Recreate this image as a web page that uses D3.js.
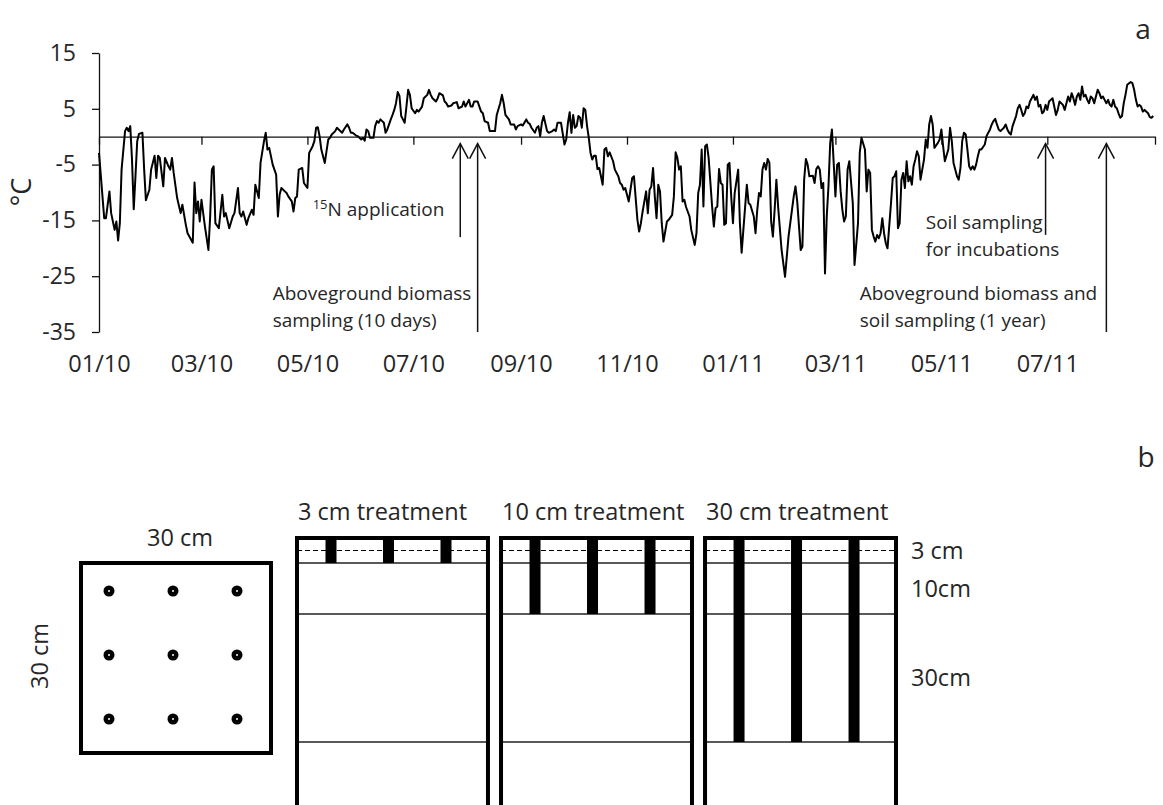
<!DOCTYPE html>
<html>
<head>
<meta charset="utf-8">
<script src="https://cdn.jsdelivr.net/npm/d3@7"></script>
<style>
body { margin: 0; background: #fff; }
svg { display: block; font-family: "Open Sans", sans-serif; }
</style>
</head>
<body>
<div id="chart"></div>
<script>
const width = 1163, height = 805;

// panel a: daily temperature, [days since 01/01/2010, °C]
const startDate = new Date(2010, 0, 1), endDate = new Date(2011, 8, 1);
const yTicks = [15, 5, -5, -15, -25, -35];
const readings = [
  [0,-2.9],[3,-14.6],[4,-14.6],[6,-9.8],[7,-13.7],[9,-16.7],[10,-15.2],[11,-18.6],[12,-15.5],[13,-5.9],
  [15,1.0],[16,1.6],[17,1.0],[18,1.9],[19,-4.1],[20,-13.0],[21,-7.1],[22,-0.8],[23,0.5],[25,0.7],
  [26,-5.9],[27,-11.4],[29,-9.5],[30,-5.9],[32,-3.4],[33,-7.4],[34,-3.4],[35,-3.8],[37,-8.9],[38,-3.8],
  [40,-5.3],[41,-5.9],[42,-3.8],[43,-6.5],[45,-11.0],[47,-13.7],[48,-12.2],[50,-15.8],[51,-17.3],[54,-19.0],
  [55,-8.2],[56,-13.7],[57,-11.6],[58,-15.2],[59,-11.3],[61,-16.1],[63,-20.3],[64,-14.3],[65,-5.9],[66,-5.3],
  [67,-15.5],[69,-16.4],[71,-10.4],[72,-14.3],[73,-13.7],[75,-16.4],[77,-14.3],[78,-13.7],[80,-9.2],[81,-13.7],
  [82,-14.3],[83,-13.4],[85,-15.8],[86,-14.6],[88,-13.1],[89,-14.0],[90,-8.6],[92,-11.0],[93,-4.7],[95,-0.8],
  [96,0.7],[97,-2.3],[98,-2.0],[100,-5.0],[102,-6.8],[103,-14.3],[104,-10.4],[105,-9.2],[107,-9.8],[108,-10.1],
  [109,-10.7],[111,-11.6],[112,-13.4],[113,-11.0],[114,-10.7],[115,-5.9],[117,-5.6],[118,-8.3],[120,-9.2],[121,-2.9],
  [123,-1.7],[124,-0.8],[125,1.6],[126,1.7],[127,0.1],[128,-2.3],[130,-4.7],[131,-2.6],[132,-0.5],[133,-0.2],
  [134,0.4],[136,1.0],[137,1.6],[138,1.3],[140,0.7],[141,1.3],[143,2.2],[144,1.6],[145,0.7],[146,0.7],
  [148,0.2],[149,0.1],[151,-0.5],[152,-0.2],[153,-0.7],[154,1.3],[155,1.0],[156,-0.2],[158,-0.2],[159,1.9],
  [160,2.8],[161,2.5],[162,3.1],[164,2.5],[165,0.7],[166,1.3],[168,3.1],[169,3.9],[170,4.8],[171,6.0],
  [172,8.0],[173,7.3],[174,3.7],[175,3.1],[176,2.5],[177,5.4],[178,8.4],[179,7.5],[180,5.1],[182,4.2],
  [183,4.8],[184,4.5],[186,5.4],[187,6.9],[189,7.5],[190,8.4],[191,7.5],[192,6.9],[194,6.3],[195,6.9],
  [196,7.8],[198,7.4],[199,6.3],[200,6.0],[201,5.4],[203,5.6],[204,6.0],[206,6.2],[207,5.1],[209,5.4],
  [210,6.3],[211,5.4],[213,6.6],[214,5.4],[215,5.4],[216,6.3],[218,6.3],[219,5.4],[220,4.5],[221,4.2],
  [222,2.8],[224,2.5],[225,1.0],[226,1.0],[228,1.0],[229,3.9],[231,6.0],[232,7.5],[233,6.0],[234,3.9],
  [236,3.1],[237,2.2],[239,2.2],[240,1.3],[241,1.9],[243,2.2],[244,2.0],[246,3.1],[247,2.5],[248,2.3],
  [249,1.6],[251,0.7],[252,1.6],[253,1.9],[254,0.1],[255,2.5],[256,3.7],[258,1.0],[259,0.7],[261,1.0],
  [262,1.3],[263,1.0],[264,2.5],[266,2.5],[268,-1.4],[269,-0.5],[270,2.5],[271,4.4],[272,0.7],[273,3.9],
  [274,1.6],[275,1.9],[276,3.7],[277,3.4],[278,1.6],[279,5.1],[280,4.8],[281,1.9],[282,-0.2],[283,-2.9],
  [284,-4.1],[285,-3.4],[286,-3.4],[287,-5.8],[288,-5.6],[289,-7.1],[290,-8.6],[291,-2.3],[292,-2.0],[293,-3.5],
  [294,-2.8],[296,-4.4],[297,-5.9],[299,-7.1],[300,-8.3],[301,-8.6],[302,-9.5],[303,-9.2],[304,-10.4],[305,-11.6],
  [307,-7.4],[308,-7.1],[310,-14.9],[311,-17.0],[312,-15.5],[313,-13.4],[315,-9.8],[316,-13.7],[317,-9.5],[318,-8.9],
  [319,-5.6],[320,-10.7],[321,-14.6],[322,-8.6],[323,-9.8],[324,-15.5],[325,-18.8],[327,-15.2],[328,-14.9],[330,-14.0],
  [331,-10.7],[332,-2.8],[333,-3.8],[334,-5.9],[335,-5.3],[336,-11.6],[337,-11.3],[338,-12.6],[340,-14.3],[341,-16.7],
  [343,-19.4],[344,-17.3],[345,-10.1],[346,-8.6],[347,-2.3],[348,-12.5],[349,-1.7],[350,-1.4],[351,-3.8],[353,-12.5],
  [354,-16.1],[355,-12.8],[356,-12.5],[357,-5.8],[358,-8.3],[359,-8.6],[360,-15.8],[361,-15.5],[362,-5.0],[363,-4.7],
  [364,-10.7],[365,-15.5],[366,-10.1],[368,-5.9],[369,-15.5],[370,-20.8],[371,-16.7],[373,-8.6],[374,-11.9],[375,-12.2],
  [377,-14.3],[378,-17.3],[379,-13.1],[380,-10.1],[381,-10.7],[382,-5.9],[383,-4.7],[384,-5.9],[385,-4.0],[386,-4.7],
  [387,-15.2],[388,-17.9],[389,-13.1],[390,-7.7],[391,-12.5],[392,-16.4],[393,-20.3],[395,-25.1],[396,-21.5],[397,-17.9],
  [398,-15.5],[400,-10.7],[401,-8.9],[402,-11.6],[404,-20.3],[405,-19.7],[406,-7.7],[407,-4.0],[408,-5.0],[409,-7.1],
  [411,-7.0],[412,-8.3],[413,-5.8],[414,-5.3],[415,-5.9],[416,-9.2],[417,-8.3],[418,-24.5],[419,-14.3],[420,-8.9],
  [421,-1.1],[422,1.3],[423,-4.7],[424,-10.7],[425,-5.0],[426,-4.7],[427,-9.8],[428,-13.1],[429,-15.2],[430,-14.3],
  [431,-5.9],[432,-4.4],[434,-11.9],[435,-23.0],[437,-15.5],[438,-2.9],[439,-0.2],[441,-2.3],[442,-9.8],[443,-5.9],
  [444,-6.5],[445,-16.7],[446,-17.9],[447,-18.8],[448,-17.6],[449,-18.2],[450,-17.3],[451,-14.6],[452,-17.3],[453,-19.1],
  [454,-20.0],[456,-11.9],[457,-7.4],[458,-7.1],[459,-6.2],[460,-16.4],[461,-15.5],[462,-7.7],[463,-6.5],[464,-9.2],
  [465,-4.4],[466,-8.0],[467,-7.1],[468,-8.6],[469,-5.3],[470,-4.1],[471,-2.6],[472,-3.5],[473,-7.7],[475,-4.1],
  [476,-0.5],[477,-2.0],[478,2.2],[479,3.7],[480,2.2],[481,-2.0],[483,-1.1],[484,-0.5],[485,1.3],[486,-1.7],
  [487,-4.4],[489,-2.3],[490,1.6],[491,-0.8],[492,-4.7],[494,-7.1],[495,-7.7],[496,-5.6],[497,-0.8],[498,0.7],
  [499,0.4],[500,-2.3],[501,-5.3],[502,-5.9],[503,-5.3],[504,-5.9],[505,-5.0],[506,-3.5],[507,-2.3],[508,-2.3],
  [510,-1.4],[511,0.1],[512,0.7],[513,1.3],[514,2.2],[515,2.8],[516,3.2],[517,2.2],[518,1.3],[519,1.0],
  [521,1.6],[522,2.2],[523,1.3],[524,0.7],[525,0.4],[526,1.9],[528,3.7],[529,5.1],[530,5.7],[531,4.8],
  [532,3.7],[533,4.2],[534,5.4],[535,5.1],[536,6.3],[537,6.9],[538,7.5],[539,6.6],[540,7.2],[541,5.4],
  [542,5.7],[543,4.2],[544,4.5],[545,5.7],[546,4.8],[547,6.3],[548,6.6],[549,6.9],[550,5.4],[551,3.9],
  [552,4.8],[553,6.3],[554,6.0],[555,5.7],[556,4.8],[557,6.0],[558,7.2],[559,6.3],[560,7.8],[561,6.9],
  [562,5.7],[563,7.2],[564,7.8],[565,6.6],[566,9.0],[567,7.2],[568,7.5],[569,6.6],[570,6.0],[571,7.2],
  [572,6.9],[573,6.0],[574,7.2],[575,8.4],[576,7.8],[577,6.9],[578,7.2],[579,6.6],[580,6.0],[581,6.6],
  [582,5.7],[583,5.4],[584,6.6],[585,5.4],[586,5.1],[587,4.2],[588,3.4],[589,3.7],[590,6.0],[591,7.5],
  [592,9.3],[594,9.8],[595,9.6],[596,8.4],[597,6.6],[598,5.4],[599,5.7],[600,5.4],[601,4.5],[602,4.8],
  [604,4.2],[605,3.5],[606,3.4],[607,3.7]
];
// sampling events: day and where the arrow tail ends (°C)
const events = [
  { day: 208, tail: -18 },
  { day: 218, tail: -35 },
  { day: 545, tail: -17.6 },
  { day: 580, tail: -35 }
];
const notes = [
  { day: 123, value: -14.2, lines: ["N application"], sup: "15" },
  { day: 100, value: -28.0, lines: ["Aboveground biomass", "sampling (10 days)"] },
  { day: 476, value: -15.3, lines: ["Soil sampling", "for incubations"] },
  { day: 438, value: -28.0, lines: ["Aboveground biomass and", "soil sampling (1 year)"] }
];

// panel b
const treatments = ["3 cm treatment", "10 cm treatment", "30 cm treatment"];
const injectDepths = [3, 10, 30];
const layerDepths = [3, 10, 30];
const layerLabels = ["3 cm", "10cm", "30cm"];
const grid = [0, 1, 2];

const svg = d3.select("#chart").append("svg")
    .attr("width", width)
    .attr("height", height);
svg.append("rect").attr("width", width).attr("height", height).attr("fill", "#fff");

const textColor = "#262626";
const dayDate = (d) => d3.timeDay.offset(startDate, d);

// ---------- panel a ----------
const x = d3.scaleTime().domain([startDate, endDate]).range([99, 1155]);
const y = d3.scaleLinear().domain([-35, 15]).range([332, 53]);

const yAxis = svg.append("g")
    .attr("transform", "translate(99,0)")
    .call(d3.axisLeft(y).tickValues(yTicks).tickSize(7).tickSizeOuter(0).tickPadding(16)
        .tickFormat((d) => String(d)));
yAxis.selectAll("text").attr("font-size", 23).attr("fill", textColor).attr("font-family", "Open Sans");

const monthTicks = d3.timeMonth.every(2).range(startDate, d3.timeDay.offset(endDate, 1));
svg.append("g")
    .attr("transform", "translate(0," + y(0) + ")")
    .call(d3.axisBottom(x).tickValues(monthTicks).tickSize(8).tickSizeOuter(0).tickFormat(""));

const xLabels = svg.append("g")
    .attr("transform", "translate(0,355)")
    .call(d3.axisBottom(x).tickValues(monthTicks.slice(0, -1)).tickSize(0).tickPadding(0)
        .tickFormat(d3.timeFormat("%m/%y")));
xLabels.select(".domain").remove();
xLabels.selectAll("text").attr("font-size", 23.5).attr("fill", textColor).attr("font-family", "Open Sans");

svg.selectAll(".domain, .tick line").attr("stroke", "#111").attr("stroke-width", 1.3);

svg.append("text")
    .attr("transform", "translate(22,192) rotate(-90)")
    .attr("text-anchor", "middle")
    .attr("dy", "0.35em")
    .attr("font-size", 27)
    .attr("fill", textColor)
    .text("°C");

const line = d3.line()
    .x((d) => x(dayDate(d[0])))
    .y((d) => y(d[1]));

svg.append("path")
    .datum(readings)
    .attr("fill", "none")
    .attr("stroke", "#000")
    .attr("stroke-width", 2)
    .attr("stroke-linejoin", "round")
    .attr("d", line);

// arrows
const tipY = y(0) + 7;
const arrows = svg.append("g").attr("stroke", "#111").attr("stroke-width", 1.5).attr("fill", "none");
events.forEach((e) => {
    const ax = x(dayDate(e.day));
    arrows.append("line")
        .attr("x1", ax).attr("x2", ax)
        .attr("y1", y(e.tail)).attr("y2", tipY);
    arrows.append("path")
        .attr("d", "M" + (ax - 8) + "," + (tipY + 15) + "L" + ax + "," + tipY + "L" + (ax + 8) + "," + (tipY + 15));
});

// annotations
notes.forEach((n) => {
    const t = svg.append("text")
        .attr("font-size", 19)
        .attr("fill", textColor)
        .attr("x", x(dayDate(n.day)))
        .attr("y", y(n.value));
    n.lines.forEach((l, i) => {
        const span = t.append("tspan")
            .attr("x", x(dayDate(n.day)))
            .attr("dy", i === 0 ? "0.35em" : 27)
            .attr("fill", textColor);
        if (n.sup && i === 0) {
            span.append("tspan").attr("font-size", 13).attr("dy", -7).attr("fill", textColor).text(n.sup);
            span.append("tspan").attr("dy", 7).attr("fill", textColor).text(l);
        } else {
            span.text(l);
        }
    });
});

svg.append("text").attr("x", 1143).attr("y", 29).attr("dy", "0.35em")
    .attr("text-anchor", "middle").attr("font-size", 28).attr("fill", textColor).text("a");

// ---------- panel b ----------
svg.append("text").attr("x", 1146).attr("y", 457).attr("dy", "0.35em")
    .attr("text-anchor", "middle").attr("font-size", 28).attr("fill", textColor).text("b");

const boxTop = 538, boxBottom = 830;
const depth = d3.scaleLinear().domain([0, 3, 10, 30]).range([boxTop, 563, 614, 742]);
const box = d3.scaleBand().domain(treatments).range([297, 896]).paddingInner(0.064);
const col = d3.scalePoint().domain(grid).range([34, 149]);

// square plot with 9 injection points
const sq = { x: 81, y: 563, size: 190 };
const dot = d3.scalePoint().domain(grid).range([28, 156]);
svg.append("rect")
    .attr("x", sq.x).attr("y", sq.y)
    .attr("width", sq.size).attr("height", sq.size)
    .attr("fill", "none").attr("stroke", "#000").attr("stroke-width", 4);
const pts = d3.cross(grid, grid);
svg.selectAll("circle.hole").data(pts).enter().append("circle")
    .attr("class", "hole")
    .attr("cx", (d) => sq.x + dot(d[0]))
    .attr("cy", (d) => sq.y + dot(d[1]))
    .attr("r", 5.5)
    .attr("fill", "#000");
svg.selectAll("circle.core").data(pts).enter().append("circle")
    .attr("class", "core")
    .attr("cx", (d) => sq.x + dot(d[0]))
    .attr("cy", (d) => sq.y + dot(d[1]))
    .attr("r", 1)
    .attr("fill", "#fff");
svg.append("text").attr("x", 180).attr("y", 538).attr("dy", "0.35em")
    .attr("text-anchor", "middle").attr("font-size", 23.5).attr("fill", textColor).text("30 cm");
svg.append("text").attr("transform", "translate(40,656) rotate(-90)").attr("dy", "0.35em")
    .attr("text-anchor", "middle").attr("font-size", 23.5).attr("fill", textColor).text("30 cm");

// soil columns
const columns = svg.selectAll("g.column").data(treatments).enter().append("g")
    .attr("class", "column")
    .attr("transform", (d) => "translate(" + box(d) + ",0)");

columns.append("line")
    .attr("x1", 0).attr("x2", box.bandwidth())
    .attr("y1", depth(1.5)).attr("y2", depth(1.5))
    .attr("stroke", "#000").attr("stroke-width", 1.2).attr("stroke-dasharray", "5,3");

layerDepths.forEach((ld) => {
    columns.append("line")
        .attr("x1", 0).attr("x2", box.bandwidth())
        .attr("y1", depth(ld)).attr("y2", depth(ld))
        .attr("stroke", "#222").attr("stroke-width", 1.6);
});

columns.each(function (t, i) {
    d3.select(this).selectAll("rect.bar").data(grid).enter().append("rect")
        .attr("class", "bar")
        .attr("x", (g) => col(g) - 5.5)
        .attr("y", boxTop)
        .attr("width", 11)
        .attr("height", depth(injectDepths[i]) - boxTop)
        .attr("fill", "#000");
});

columns.append("rect")
    .attr("x", 0).attr("y", boxTop)
    .attr("width", box.bandwidth()).attr("height", boxBottom - boxTop)
    .attr("fill", "none").attr("stroke", "#000").attr("stroke-width", 4);

columns.append("text")
    .attr("x", 1).attr("y", 512).attr("dy", "0.35em")
    .attr("font-size", 23.5).attr("fill", textColor)
    .text((d) => d);

const bounds = [0].concat(layerDepths);
layerLabels.forEach((l, i) => {
    svg.append("text")
        .attr("x", 911)
        .attr("y", (depth(bounds[i]) + depth(bounds[i + 1])) / 2)
        .attr("dy", "0.35em")
        .attr("font-size", 23.5).attr("fill", textColor)
        .text(l);
});
</script>
</body>
</html>
